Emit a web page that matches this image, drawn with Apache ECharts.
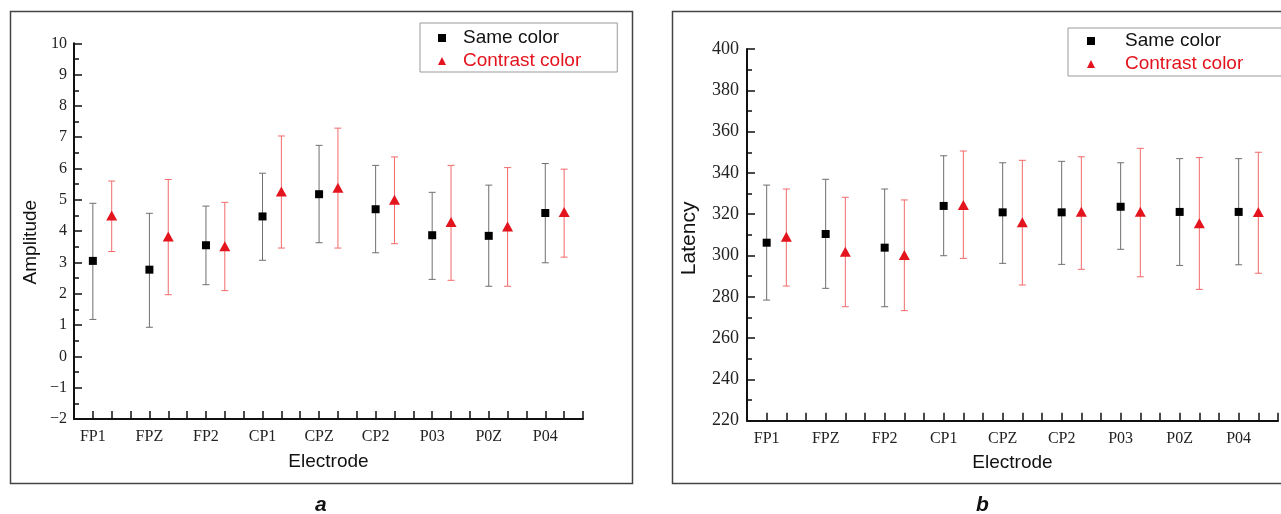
<!DOCTYPE html>
<html>
<head>
<meta charset="utf-8">
<script src="https://cdn.jsdelivr.net/npm/echarts@6/dist/echarts.min.js"></script>
<style>
html,body{margin:0;padding:0;background:#fff;}
#chart{width:1281px;height:514px;}
</style>
</head>
<body>
<div id="chart"></div>
<script>
const electrodes = ['FP1','FPZ','FP2','CP1','CPZ','CP2','P03','P0Z','P04'];

const ampSameMean = [3.05, 2.77, 3.55, 4.47, 5.18, 4.70, 3.87, 3.85, 4.58];
const ampSameLow  = [1.18, 0.93, 2.29, 3.07, 3.63, 3.31, 2.46, 2.24, 2.99];
const ampSameHigh = [4.89, 4.57, 4.80, 5.85, 6.74, 6.10, 5.24, 5.47, 6.16];
const ampConMean  = [4.50, 3.83, 3.52, 5.27, 5.39, 5.00, 4.29, 4.15, 4.61];
const ampConLow   = [3.35, 1.97, 2.10, 3.46, 3.46, 3.60, 2.43, 2.24, 3.17];
const ampConHigh  = [5.60, 5.65, 4.92, 7.04, 7.29, 6.37, 6.10, 6.03, 5.98];

const latSameMean = [306.2, 310.4, 303.8, 324.0, 320.9, 320.9, 323.6, 321.1, 321.1];
const latSameLow  = [278.4, 284.1, 275.2, 299.9, 296.2, 295.7, 303.0, 295.2, 295.5];
const latSameHigh = [334.1, 336.9, 332.2, 348.3, 344.9, 345.6, 344.9, 346.9, 346.9];
const latConMean  = [309.1, 301.8, 300.2, 324.5, 316.1, 321.2, 321.2, 315.6, 321.1];
const latConLow   = [285.2, 275.2, 273.3, 298.6, 285.7, 293.3, 289.7, 283.6, 291.4];
const latConHigh  = [332.2, 328.2, 326.9, 350.6, 346.1, 347.8, 351.9, 347.4, 350.0];

const seriesNames = ['Same color', 'Contrast color'];
const panelLabels = ['a', 'b'];
const axisNames = ['Amplitude', 'Latency', 'Electrode'];

const RED = '#e3141d';
const BLACK = '#000000';
const GREY_BAR = '#6f6f6f';
const RED_BAR = '#f26a6a';

function pos(i, k) { return 3 * i + 1 + k; }
function pts(mean, k) { return mean.map((v, i) => [pos(i, k), v]); }
function bars(low, high, k) { return low.map((v, i) => [pos(i, k), v, high[i]]); }

function errRender(color) {
  return function (params, api) {
    const x = api.value(0);
    const lo = api.coord([x, api.value(1)]);
    const hi = api.coord([x, api.value(2)]);
    const cw = 3.5;
    const st = { stroke: color, lineWidth: 1 };
    return {
      type: 'group',
      children: [
        { type: 'line', shape: { x1: lo[0], y1: lo[1], x2: hi[0], y2: hi[1] }, style: st },
        { type: 'line', shape: { x1: hi[0] - cw, y1: hi[1], x2: hi[0] + cw, y2: hi[1] }, style: st },
        { type: 'line', shape: { x1: lo[0] - cw, y1: lo[1], x2: lo[0] + cw, y2: lo[1] }, style: st }
      ]
    };
  };
}

const serif = 'Liberation Serif';
const sans = 'Liberation Sans';

function xAxisCfg(g) {
  return {
    gridIndex: g, type: 'value', min: 0, max: 27, interval: 1,
    axisLine: { show: true, onZero: false, lineStyle: { color: '#111', width: 2 } },
    axisTick: { show: true, inside: true, length: 8, lineStyle: { color: '#111', width: 1.5 } },
    splitLine: { show: false },
    axisLabel: {
      margin: 10, fontFamily: serif, fontSize: 16, color: '#222',
      formatter: v => (v % 3 === 1 ? electrodes[(v - 1) / 3] : '')
    },
    name: axisNames[2], nameLocation: 'middle', nameGap: 33,
    nameTextStyle: { fontFamily: sans, fontSize: 19, color: '#111' }
  };
}

function yAxisCfg(g, min, max, interval, name, gap, margin, labelSize, nameSize, namePad) {
  return {
    gridIndex: g, type: 'value', min: min, max: max, interval: interval,
    axisLine: { show: true, lineStyle: { color: '#111', width: 2 } },
    axisTick: { show: true, inside: true, length: 8, lineStyle: { color: '#111', width: 1.5 } },
    minorTick: { show: true, splitNumber: 2, length: 5, lineStyle: { color: '#111', width: 1.5 } },
    splitLine: { show: false },
    axisLabel: {
      margin: margin, fontFamily: serif, fontSize: labelSize, color: '#222',
      formatter: v => String(v).replace('-', '\u2212')
    },
    name: name, nameLocation: 'middle', nameGap: gap,
    nameTextStyle: { fontFamily: sans, fontSize: nameSize, color: '#111', padding: [0, namePad, 0, 0] }
  };
}

function legendCfg(left, top, padding, textPadLeft) {
  return {
    left: left, top: top, orient: 'vertical', selectedMode: false,
    borderColor: '#9a9a9a', borderWidth: 1, padding: padding,
    itemWidth: 8, itemHeight: 8, itemGap: 1,
    textStyle: { fontFamily: sans, fontSize: 19, color: '#111', lineHeight: 22, padding: [0, 0, 0, textPadLeft] },
    data: [
      { name: seriesNames[0], icon: 'rect', itemStyle: { color: BLACK } },
      { name: seriesNames[1], icon: 'triangle', textStyle: { color: RED }, itemStyle: { color: RED } }
    ]
  };
}

const chart = echarts.init(document.getElementById('chart'), null, { renderer: 'canvas' });

const option = {
  animation: false,
  backgroundColor: '#fff',
  grid: [
    { left: 74, top: 43.3, width: 509, height: 375.7 },
    { left: 747, top: 49, width: 531, height: 371.7 }
  ],
  xAxis: [xAxisCfg(0), xAxisCfg(1)],
  yAxis: [
    yAxisCfg(0, -2, 10, 1, axisNames[0], 34, 7, 16, 19, 22),
    yAxisCfg(1, 220, 400, 20, axisNames[1], 47, 8, 18, 21, 7)
  ],
  legend: [
    legendCfg(420, 23, [4, 36, 0, 18], 12),
    legendCfg(1068, 28, [2, 60, 1, 19], 25)
  ],
  graphic: [
    { type: 'rect', shape: { x: 10.5, y: 11.5, width: 622, height: 472 }, style: { fill: 'none', stroke: '#444', lineWidth: 1.5 }, silent: true },
    { type: 'rect', shape: { x: 672.5, y: 11.5, width: 700, height: 472 }, style: { fill: 'none', stroke: '#444', lineWidth: 1.5 }, silent: true },
    { type: 'text', left: 315, top: 495, style: { text: panelLabels[0], font: 'italic bold 21px "Liberation Sans"', fill: '#111' } },
    { type: 'text', left: 976, top: 495, style: { text: panelLabels[1], font: 'italic bold 21px "Liberation Sans"', fill: '#111' } }
  ],
  series: [
    { type: 'custom', name: 'errSameA', xAxisIndex: 0, yAxisIndex: 0, renderItem: errRender(GREY_BAR), data: bars(ampSameLow, ampSameHigh, 0), clip: false, z: 2 },
    { type: 'custom', name: 'errConA', xAxisIndex: 0, yAxisIndex: 0, renderItem: errRender(RED_BAR), data: bars(ampConLow, ampConHigh, 1), clip: false, z: 2 },
    { type: 'scatter', name: seriesNames[0], xAxisIndex: 0, yAxisIndex: 0, symbol: 'rect', symbolSize: 8, itemStyle: { color: BLACK, opacity: 1 }, data: pts(ampSameMean, 0), z: 3 },
    { type: 'scatter', name: seriesNames[1], xAxisIndex: 0, yAxisIndex: 0, symbol: 'triangle', symbolSize: [11, 10], itemStyle: { color: RED, opacity: 1 }, data: pts(ampConMean, 1), z: 3 },
    { type: 'custom', name: 'errSameB', xAxisIndex: 1, yAxisIndex: 1, renderItem: errRender(GREY_BAR), data: bars(latSameLow, latSameHigh, 0), clip: false, z: 2 },
    { type: 'custom', name: 'errConB', xAxisIndex: 1, yAxisIndex: 1, renderItem: errRender(RED_BAR), data: bars(latConLow, latConHigh, 1), clip: false, z: 2 },
    { type: 'scatter', name: seriesNames[0], xAxisIndex: 1, yAxisIndex: 1, symbol: 'rect', symbolSize: 8, itemStyle: { color: BLACK, opacity: 1 }, data: pts(latSameMean, 0), z: 3 },
    { type: 'scatter', name: seriesNames[1], xAxisIndex: 1, yAxisIndex: 1, symbol: 'triangle', symbolSize: [11, 10], itemStyle: { color: RED, opacity: 1 }, data: pts(latConMean, 1), z: 3 }
  ]
};
chart.setOption(option);
</script>
</body>
</html>
